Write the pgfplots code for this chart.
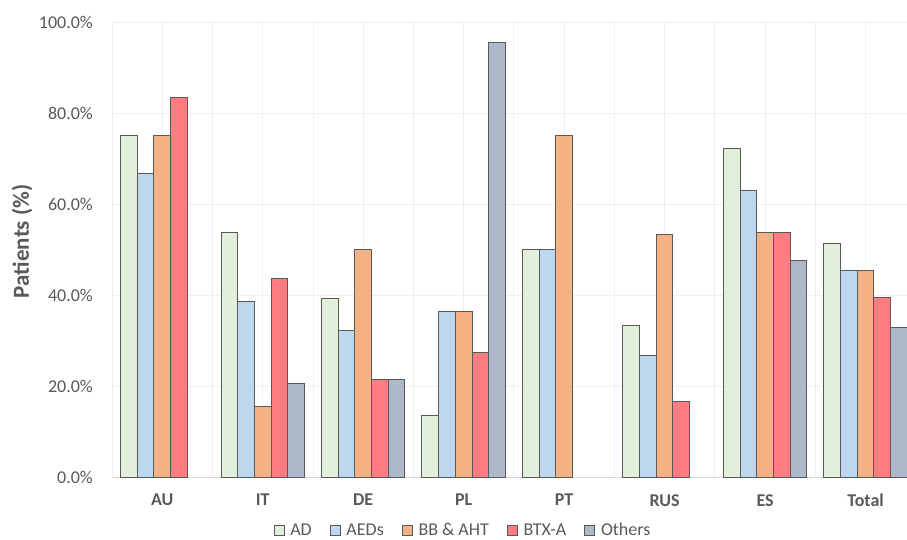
\documentclass[border=0pt]{standalone}
\usepackage{fontspec}
\setmainfont{Carlito}
\usepackage{pgfplots}
\pgfplotsset{compat=1.18}
\usetikzlibrary{calc}
\definecolor{cAD}{HTML}{E2EFDA}
\definecolor{cAED}{HTML}{BDD7EE}
\definecolor{cBB}{HTML}{F4B183}
\definecolor{cBTX}{HTML}{FF7C80}
\definecolor{cOth}{HTML}{ADB9CA}
\definecolor{edge}{HTML}{595959}
\definecolor{txt}{HTML}{595959}
\definecolor{gridgray}{HTML}{EFEFEF}
\definecolor{axisgray}{HTML}{D9D9D9}
\begin{document}
\begin{tikzpicture}
\begin{axis}[
  scale only axis, width=795pt, height=455pt,
  ybar=0pt, bar width=0.166,
  xmin=-0.5, xmax=7.412, ymin=0, ymax=100,
  xtick={0,...,7}, xticklabels={AU,IT,DE,PL,PT,RUS,ES,Total},
  minor xtick={-0.5,0.5,...,7.5},
  ytick={0,20,...,100},
  yticklabels={0.0\%,20.0\%,40.0\%,60.0\%,80.0\%,100.0\%},
  xmajorgrids, xminorgrids, ymajorgrids,
  grid style={draw=gridgray, line width=0.9pt},
  minor grid style={draw=gridgray, line width=0.9pt},
  major tick length=0pt, minor tick length=0pt,
  axis lines*=left,
  x axis line style={draw=axisgray, line width=1pt, -},
  y axis line style={draw=none},
  yticklabel style={font=\fontsize{18}{20}\selectfont, text=txt, inner sep=0pt, xshift=-19pt},
  xticklabel style={font=\fontsize{18}{20}\selectfont\bfseries, text=txt, inner sep=0pt, yshift=-17pt},
  ylabel={Patients (\%)},
  every axis y label/.style={at={(axis description cs:-0.113,0.518)}, rotate=90, anchor=center,
    font=\fontsize{23}{26}\selectfont\bfseries, text=txt},
  legend style={at={(axis description cs:0.444,-0.117)}, anchor=center, draw=none, fill=none,
    legend columns=-1, font=\fontsize{18}{20}\selectfont, text=txt,
    nodes={inner ysep=0pt, inner xsep=6pt},
    /tikz/every even column/.append style={column sep=12pt}},
  legend image code/.code={\draw[#1, line width=0.7pt] (0pt,-5pt) rectangle (10pt,5pt);},
  every axis plot/.append style={draw=edge, line width=1pt},
]
\addplot[fill=cAD] coordinates {(0,75) (1,53.8) (2,39.3) (3,13.6) (4,50) (5,33.3) (6,72.2) (7,51.4)};
\addplot[fill=cAED] coordinates {(0,66.7) (1,38.5) (2,32.1) (3,36.4) (4,50) (5,26.7) (6,63.0) (7,45.3)};
\addplot[fill=cBB] coordinates {(0,75) (1,15.4) (2,50) (3,36.4) (4,75) (5,53.3) (6,53.7) (7,45.3)};
\addplot[fill=cBTX] coordinates {(0,83.3) (1,43.6) (2,21.4) (3,27.3) (5,16.7) (6,53.8) (7,39.4)};
\addplot[fill=cOth] coordinates {(1,20.5) (2,21.4) (3,95.5) (6,47.6) (7,32.9)};
\legend{AD,AEDs,BB \& AHT,BTX-A,Others}
\coordinate (ll) at (rel axis cs:0,0);
\coordinate (ur) at (rel axis cs:1,1);
\end{axis}
\pgfresetboundingbox
\path ($(ll)+(-112pt,-62pt)$) rectangle ($(ur)+(0pt,22pt)$);
\end{tikzpicture}
\end{document}
